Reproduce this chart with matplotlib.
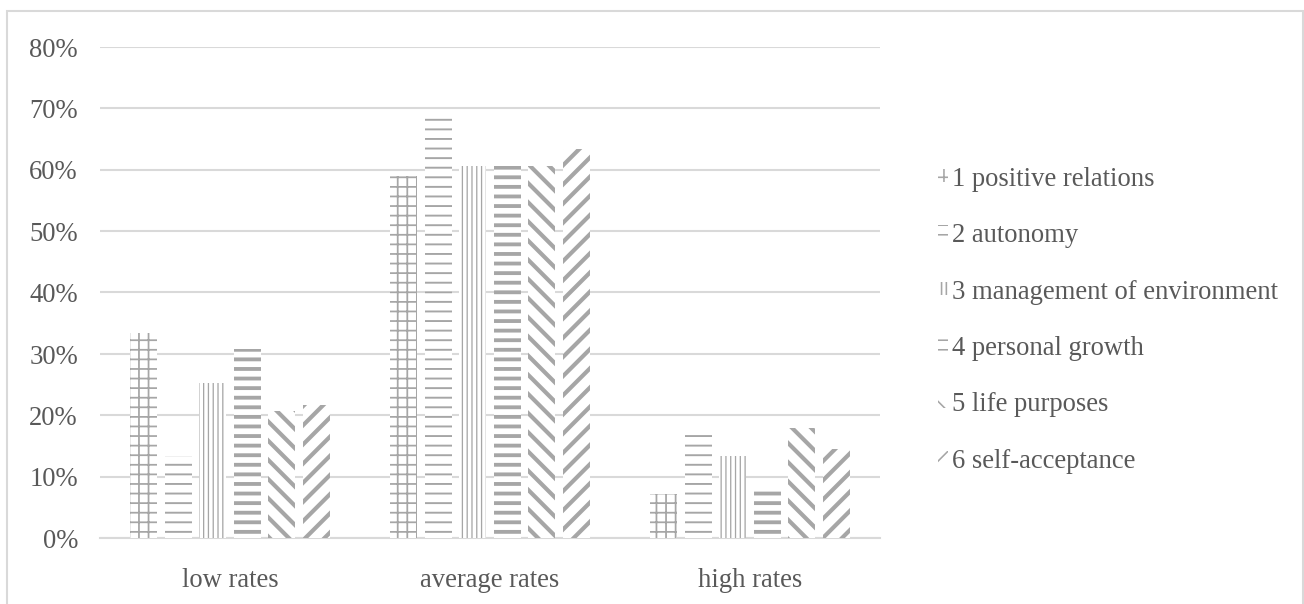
import matplotlib
matplotlib.use("Agg")
import matplotlib.pyplot as plt
from matplotlib.patches import Patch, Rectangle
import numpy as np

plt.rcParams['font.family'] = ['Liberation Serif', 'DejaVu Serif']

# data
groups = ['low rates', 'average rates', 'high rates']
series = ['1 positive relations', '2 autonomy', '3 management of environment',
          '4 personal growth', '5 life purposes', '6 self-acceptance']
values = [
    [0.334, 0.590, 0.071],   # positive relations
    [0.134, 0.694, 0.173],   # autonomy
    [0.253, 0.606, 0.134],   # management of environment
    [0.308, 0.606, 0.082],   # personal growth
    [0.207, 0.606, 0.179],   # life purposes
    [0.217, 0.634, 0.145],   # self-acceptance
]

hatches = ['++', '--', '||||', '--', '\\\\', '//']
hatch_lw = [1.1, 1.2, 0.8, 2.4, 2.6, 2.6]
gray = '#a6a6a6'
text_col = '#595959'
grid_col = '#d9d9d9'

# dpi 115 so the hatch spacing comes close to the original one
DPI = 115
fig = plt.figure(figsize=(1304.3 / DPI, 604.3 / DPI), dpi=DPI)
ax = fig.add_axes([0.0767, 0.1093, 0.5981, 0.8129])

x = np.arange(len(groups))
width = 0.104
pitch = 0.1327

for i, (name, vals) in enumerate(zip(series, values)):
    bars = ax.bar(x + (i - 2.5) * pitch, vals, width, facecolor='white',
                  edgecolor=gray, linewidth=0, hatch=hatches[i], zorder=3)
    for b in bars:
        try:
            b.set_hatch_linewidth(hatch_lw[i])
        except AttributeError:
            pass

ax.set_xlim(-0.5, 2.5)
ax.set_ylim(0, 0.8)
ticks = np.arange(0, 0.81, 0.1)
ax.set_yticks(ticks)
ax.set_yticklabels([f'{int(round(v * 100))}%' for v in ticks])
ax.set_xticks(x)
ax.set_xticklabels(groups)
ax.yaxis.grid(True, color=grid_col, linewidth=1.3, zorder=0)
ax.set_axisbelow(True)
for s in ['top', 'right', 'left']:
    ax.spines[s].set_visible(False)
ax.spines['bottom'].set_color(grid_col)
ax.spines['bottom'].set_linewidth(1.3)
ax.tick_params(axis='both', length=0, labelsize=16.7, colors=text_col)
ax.tick_params(axis='y', pad=13.8)
ax.tick_params(axis='x', pad=18.5)

handles = []
for i, name in enumerate(series):
    h = Patch(facecolor='white', edgecolor=gray, linewidth=0, hatch=hatches[i])
    try:
        h.set_hatch_linewidth(hatch_lw[i])
    except AttributeError:
        pass
    handles.append(h)
leg = fig.legend(handles, series, loc='center left', bbox_to_anchor=(0.719, 0.47),
                 frameon=False, fontsize=16.7, handlelength=0.4, handleheight=0.4,
                 handletextpad=0.15, labelspacing=1.18, borderpad=0,
                 borderaxespad=0)
for t in leg.get_texts():
    t.set_color(text_col)

# outer chart frame
fig.patches.append(Rectangle((0.0054, -0.1), 0.9935, 1.082, transform=fig.transFigure,
                             fill=False, edgecolor=grid_col, linewidth=1.3))

fig.savefig('out.png', dpi=DPI)
